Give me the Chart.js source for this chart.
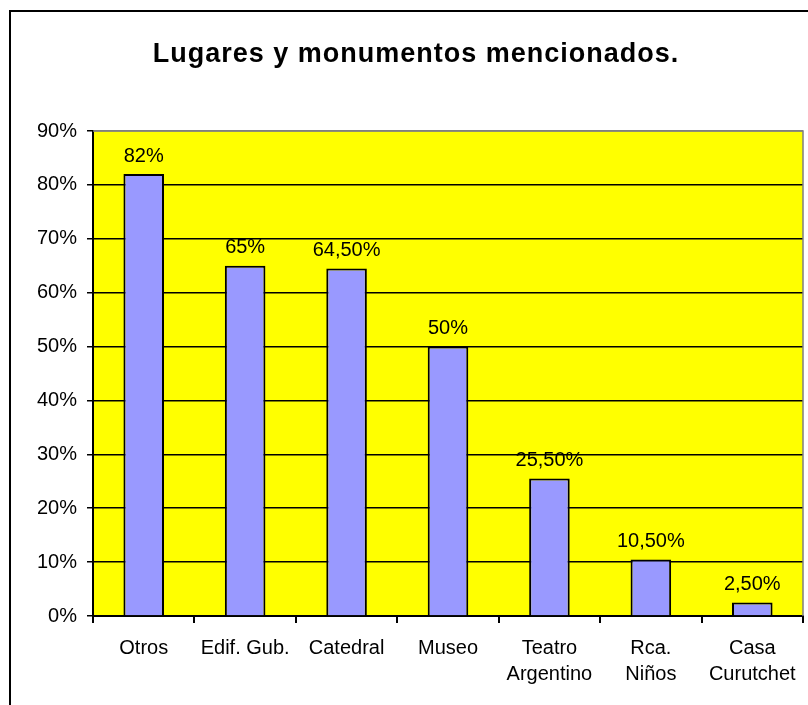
<!DOCTYPE html>
<html>
<head>
<meta charset="utf-8">
<script src="https://cdn.jsdelivr.net/npm/chart.js@4/dist/chart.umd.min.js"></script>
<style>
  html, body { margin: 0; padding: 0; background: #fff; }
  #wrap { width: 808px; height: 705px; }
</style>
</head>
<body>
<div id="wrap"><canvas id="lugaresChart" width="808" height="705"></canvas></div>
<script>
// datos del grafico
const titulo = 'Lugares y monumentos mencionados.';
const categorias = ['Otros', 'Edif. Gub.', 'Catedral', 'Museo', ['Teatro', 'Argentino'], ['Rca.', 'Niños'], ['Casa', 'Curutchet']];
const porcentajes = [82, 65, 64.5, 50, 25.5, 10.5, 2.5];
const etiquetas = ['82%', '65%', '64,50%', '50%', '25,50%', '10,50%', '2,50%'];

const fuente = '"Liberation Sans", Arial, sans-serif';

// fondo amarillo, marco exterior y titulo
const fondoPlugin = {
    id: 'fondo',
    beforeDraw(chart) {
        const { ctx, chartArea: a } = chart;
        ctx.save();
        ctx.fillStyle = '#FFFF00';
        ctx.fillRect(a.left, a.top, a.right - a.left, a.bottom - a.top);
        ctx.strokeStyle = '#000';
        ctx.lineWidth = 2;
        ctx.beginPath();
        ctx.moveTo(10, 705);
        ctx.lineTo(10, 11);
        ctx.lineTo(808, 11);
        ctx.stroke();
        // titulo con un poco de espaciado entre letras
        ctx.fillStyle = '#000';
        ctx.font = 'bold 27px ' + fuente;
        ctx.letterSpacing = '1px';
        ctx.textAlign = 'center';
        ctx.textBaseline = 'alphabetic';
        ctx.fillText(titulo, 416, 62);
        ctx.restore();
    },
    afterDatasetsDraw(chart) {
        const { ctx, chartArea: a } = chart;
        ctx.save();
        // borde gris arriba y a la derecha
        ctx.strokeStyle = '#808080';
        ctx.lineWidth = 1.5;
        ctx.beginPath();
        ctx.moveTo(a.left, a.top);
        ctx.lineTo(a.right, a.top);
        ctx.lineTo(a.right, a.bottom);
        ctx.stroke();
        // etiquetas de valores
        const meta = chart.getDatasetMeta(0);
        ctx.fillStyle = '#000';
        ctx.font = '20px ' + fuente;
        ctx.textAlign = 'center';
        ctx.textBaseline = 'bottom';
        meta.data.forEach((bar, i) => {
            ctx.fillText(etiquetas[i], bar.x, bar.y - 8);
        });
        ctx.restore();
    }
};

const ctx = document.getElementById('lugaresChart').getContext('2d');
const grafico = new Chart(ctx, {
    type: 'bar',
    data: {
        labels: categorias,
        datasets: [{
            data: porcentajes,
            backgroundColor: '#9999FF',
            borderColor: '#000',
            borderWidth: 2,
            barPercentage: 0.4,
            categoryPercentage: 1
        }]
    },
    options: {
        responsive: false,
        animation: false,
        layout: { padding: { left: 28, right: 5, top: 131, bottom: 0 } },
        plugins: {
            legend: { display: false },
            tooltip: { enabled: false },
            title: { display: false }
        },
        scales: {
            y: {
                min: 0,
                max: 90,
                ticks: {
                    stepSize: 10,
                    color: '#000',
                    padding: 10,
                    font: { family: fuente, size: 20 },
                    callback: v => v + '%'
                },
                grid: {
                    color: c => c.tick && c.tick.value === 90 ? '#808080' : '#000',
                    lineWidth: 1.5,
                    tickLength: 6,
                    tickColor: '#000'
                },
                border: { color: '#000', width: 2 },
                afterFit(scale) { scale.width = 65; }
            },
            x: {
                ticks: {
                    color: '#000',
                    padding: 12,
                    maxRotation: 0,
                    autoSkip: false,
                    font: { family: fuente, size: 20, lineHeight: 1.3 }
                },
                grid: {
                    offset: true,
                    drawOnChartArea: false,
                    tickLength: 7,
                    tickColor: '#000',
                    lineWidth: 2
                },
                border: { color: '#000', width: 2 },
                afterFit(scale) { scale.height = 89; }
            }
        }
    },
    plugins: [fondoPlugin]
});
</script>
</body>
</html>
